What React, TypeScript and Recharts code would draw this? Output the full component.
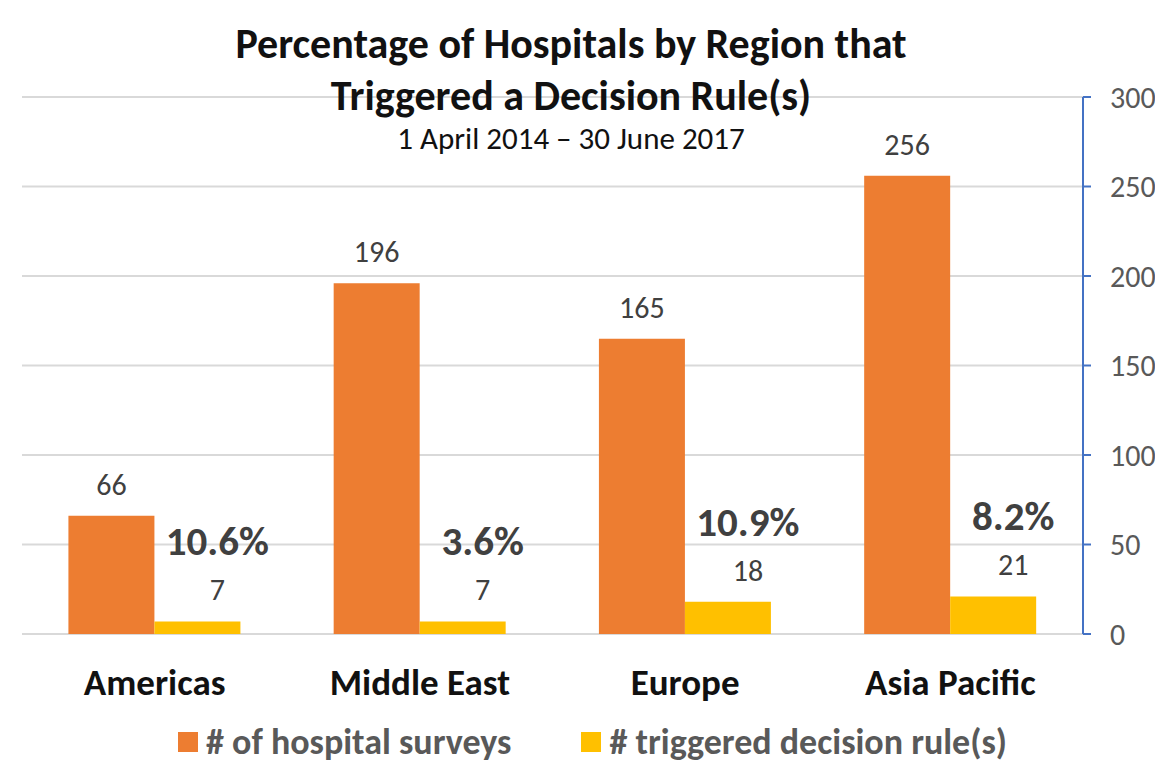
import React from 'react';
import { BarChart, Bar, XAxis, YAxis, CartesianGrid, LabelList, Legend } from 'recharts';

const categories = ['Americas', 'Middle East', 'Europe', 'Asia Pacific'];
const surveys = [66, 196, 165, 256];
const triggered = [7, 7, 18, 21];
const pctLabels = ['10.6%', '3.6%', '10.9%', '8.2%'];
const yTicks = [0, 50, 100, 150, 200, 250, 300];

const seriesNames = ['# of hospital surveys', '# triggered decision rule(s)'];
const seriesColors = ['#ED7D31', '#FFC000'];

const data = categories.map((c, i) => ({
  region: c,
  surveys: surveys[i],
  triggered: triggered[i],
  pct: pctLabels[i],
}));

const FONT = "Carlito, Calibri, Lato, sans-serif";

const XTick = (props: any) => {
  const { x, y, payload } = props;
  return (
    <text x={x} y={y + 53} textAnchor="middle" fontFamily={FONT} fontWeight={700} fontSize={37} fill="#111111">
      {payload.value}
    </text>
  );
};

const TriggeredLabel = (props: any) => {
  const { x, y, width, index, value } = props;
  const cx = x + width / 2 + 20;
  const base = y - 21;
  return (
    <g>
      <text x={cx} y={base} textAnchor="middle" fontFamily={FONT} fontSize={30} fill="#404040">
        {value}
      </text>
      <text x={cx} y={base - 45} textAnchor="middle" fontFamily={FONT} fontWeight={700} fontSize={41} fill="#404040">
        {pctLabels[index]}
      </text>
    </g>
  );
};

const LegendContent = () => (
  <div
    style={{
      display: 'flex',
      justifyContent: 'center',
      alignItems: 'center',
      height: 40,
      marginTop: -3,
      fontFamily: FONT,
      fontWeight: 700,
      fontSize: 36,
      lineHeight: '40px',
      color: '#595959',
      whiteSpace: 'nowrap',
    }}
  >
    {seriesNames.map((n, i) => (
      <div key={n} style={{ display: 'flex', alignItems: 'center', marginRight: i === 0 ? 70 : 0 }}>
        <span style={{ display: 'inline-block', width: 20, height: 20, background: seriesColors[i], marginRight: 8 }} />
        <span>{n}</span>
      </div>
    ))}
  </div>
);

export default function App() {
  return (
    <div style={{ position: 'fixed', left: 0, top: 0, width: 1155, height: 765, overflow: 'hidden', background: '#fff' }}>
      <BarChart
        width={1200}
        height={765}
        data={data}
        margin={{ top: 97, right: 37, left: 22, bottom: 0 }}
        barCategoryGap="17.5%"
        barGap={0}
      >
        <CartesianGrid vertical={false} stroke="#D9D9D9" strokeWidth={2} />
        <XAxis dataKey="region" axisLine={false} tickLine={false} height={91} tick={<XTick />} interval={0} />
        <YAxis
          orientation="right"
          domain={[0, 300]}
          ticks={yTicks}
          width={80}
          axisLine={{ stroke: '#4472C4', strokeWidth: 2 }}
          tickLine={{ stroke: '#4472C4', strokeWidth: 2 }}
          tickSize={8}
          tickMargin={19}
          tick={{ fill: '#595959', fontSize: 30, fontFamily: FONT }}
        />
        <Legend verticalAlign="bottom" wrapperStyle={{ height: 40 }} content={<LegendContent />} />
        <Bar dataKey="surveys" fill={seriesColors[0]} isAnimationActive={false}>
          <LabelList dataKey="surveys" position="top" offset={21} fill="#404040" fontSize={30} fontFamily={FONT} />
        </Bar>
        <Bar dataKey="triggered" fill={seriesColors[1]} isAnimationActive={false}>
          <LabelList dataKey="triggered" content={<TriggeredLabel />} />
        </Bar>
      </BarChart>
      <div
        style={{
          position: 'absolute',
          left: 0,
          top: 0,
          width: 1142,
          textAlign: 'center',
          fontFamily: FONT,
          color: '#111111',
          pointerEvents: 'none',
        }}
      >
        <div style={{ position: 'absolute', top: 18, width: '100%', fontSize: 42, fontWeight: 700, lineHeight: '52px' }}>
          Percentage of Hospitals by Region that
          <br />
          Triggered a Decision Rule(s)
        </div>
        <div style={{ position: 'absolute', top: 120, width: '100%', fontSize: 31, lineHeight: '36px' }}>
          1 April 2014 – 30 June 2017
        </div>
      </div>
    </div>
  );
}
